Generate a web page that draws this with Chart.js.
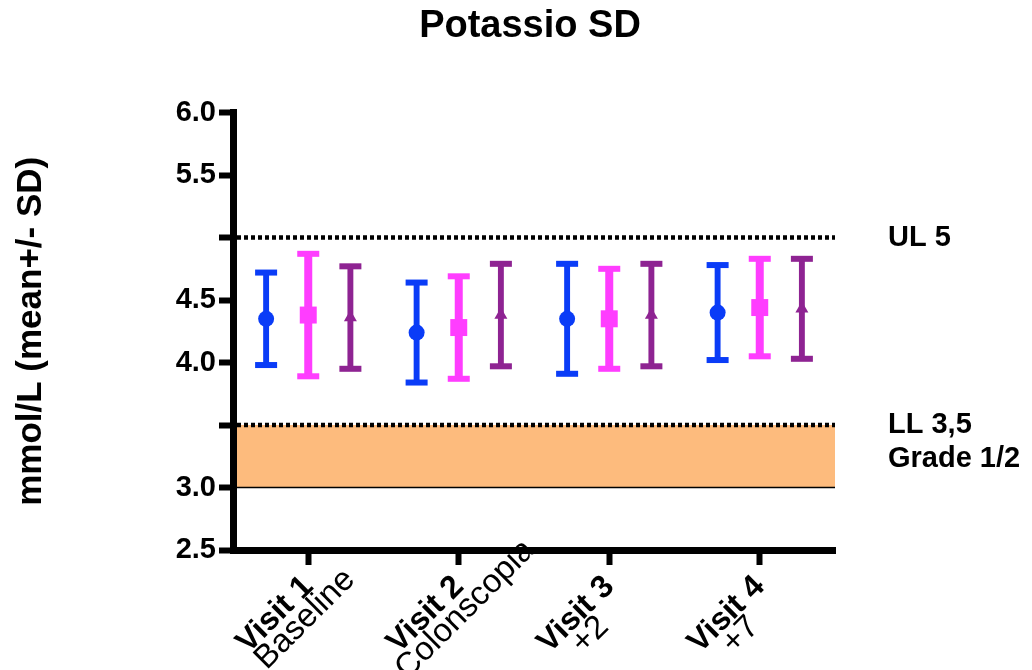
<!DOCTYPE html>
<html>
<head>
<meta charset="utf-8">
<title>Potassio SD</title>
<script src="https://cdn.jsdelivr.net/npm/chart.js@4.4.1/dist/chart.umd.min.js"></script>
<style>
  html, body { margin: 0; padding: 0; background: #ffffff; }
  #wrap { position: relative; width: 1032px; height: 670px; }
</style>
</head>
<body>
<div id="wrap"><canvas id="chartPotassio"></canvas></div>
<script>
"use strict";

/* categorie asse X */
var visite      = ['Visit 1', 'Visit 2', 'Visit 3', 'Visit 4'];
var sottotitoli = ['Baseline', 'Colonscopia', '+2', '+7'];

/* media e deviazione standard per gruppo (mmol/L) */
var mediaBlu   = [4.35, 4.24, 4.35, 4.40];
var sdBlu      = [0.37, 0.40, 0.44, 0.38];
var mediaRosa  = [4.38, 4.28, 4.35, 4.44];
var sdRosa     = [0.49, 0.41, 0.40, 0.39];
var mediaViola = [4.36, 4.38, 4.38, 4.43];
var sdViola    = [0.41, 0.41, 0.41, 0.40];

/* tacche asse Y */
var yTickValori    = [2.5, 3.0, 3.5, 4.0, 4.5, 5.0, 5.5, 6.0];
var yTickEtichette = ['2.5', '3.0', '', '4.0', '4.5', '', '5.5', '6.0'];

/* limiti di riferimento */
var limiteSup = 5.0;
var limiteInf = 3.5;
var grado12   = 3.0;

var FONT = "'Liberation Sans', Arial, sans-serif";
Chart.defaults.font.family = FONT;
Chart.defaults.color = '#000';

var serie = [
  { media: mediaBlu,   sd: sdBlu,   colore: '#0a3cf7', forma: 'circle',   raggio: 8,   spessore: 0.14 },
  { media: mediaRosa,  sd: sdRosa,  colore: '#ff3dff', forma: 'rect',     raggio: 12,  spessore: 0.19 },
  { media: mediaViola, sd: sdViola, colore: '#8e2392', forma: 'triangle', raggio: 7.5, spessore: 0.14 }
];

var datasets = serie.map(function (s, k) {
  return {
    label: 'Gruppo ' + (k + 1),
    data: s.media.map(function (m, i) { return [m - s.sd[i], m + s.sd[i]]; }),
    backgroundColor: s.colore,
    categoryPercentage: 0.84,
    barPercentage: s.spessore,
    yAxisID: 'y',
    media: s.media,
    sd: s.sd,
    forma: s.forma,
    raggio: s.raggio
  };
});

/* fascia arancio, linea a 3.0, limiti tratteggiati, barre d'errore, testi */
var pluginLimiti = {
  id: 'limiti',
  beforeDatasetsDraw: function (chart) {
    var ctx = chart.ctx, y = chart.scales.y, a = chart.chartArea;
    var x0 = a.left + 4, x1 = a.right;
    ctx.save();
    ctx.fillStyle = '#fdbb7d';
    ctx.fillRect(x0, y.getPixelForValue(limiteInf), x1 - x0,
                 y.getPixelForValue(grado12) - y.getPixelForValue(limiteInf));
    ctx.strokeStyle = '#000';
    ctx.lineWidth = 1.5;
    ctx.beginPath();
    ctx.moveTo(x0, y.getPixelForValue(grado12));
    ctx.lineTo(x1, y.getPixelForValue(grado12));
    ctx.stroke();
    ctx.lineWidth = 4.5;
    ctx.setLineDash([4, 3]);
    [limiteSup, limiteInf].forEach(function (v) {
      ctx.beginPath();
      ctx.moveTo(x0, y.getPixelForValue(v));
      ctx.lineTo(x1, y.getPixelForValue(v));
      ctx.stroke();
    });
    ctx.restore();
  },
  afterDatasetsDraw: function (chart) {
    var ctx = chart.ctx, y = chart.scales.y;
    ctx.save();
    chart.data.datasets.forEach(function (ds, di) {
      var meta = chart.getDatasetMeta(di);
      ctx.fillStyle = ds.backgroundColor;
      meta.data.forEach(function (bar, i) {
        var x = bar.x;
        var yAlto  = y.getPixelForValue(ds.media[i] + ds.sd[i]);
        var yBasso = y.getPixelForValue(ds.media[i] - ds.sd[i]);
        ctx.fillRect(x - 11, yAlto - 3, 22, 6);
        ctx.fillRect(x - 11, yBasso - 3, 22, 6);
        Chart.helpers.drawPoint(ctx, {
          pointStyle: ds.forma, radius: ds.raggio, rotation: 0, borderWidth: 0
        }, x, y.getPixelForValue(ds.media[i]));
      });
    });
    ctx.restore();
  },
  afterDraw: function (chart) {
    var ctx = chart.ctx, y = chart.scales.y, xs = chart.scales.x;
    ctx.save();
    /* etichette a destra */
    ctx.fillStyle = '#000';
    ctx.font = 'bold 29px ' + FONT;
    ctx.textAlign = 'left';
    ctx.textBaseline = 'middle';
    ctx.fillText('UL 5', 888, y.getPixelForValue(limiteSup));
    ctx.fillText('LL 3,5', 888, y.getPixelForValue(limiteInf));
    ctx.fillText('Grade 1/2', 888, y.getPixelForValue(limiteInf) + 34);
    /* seconda riga delle etichette X */
    visite.forEach(function (v, i) {
      ctx.font = 'bold 32px ' + FONT;
      var wV = ctx.measureText(v).width;
      ctx.font = '33px ' + FONT;
      var w2 = ctx.measureText(sottotitoli[i]).width;
      ctx.save();
      ctx.translate(xs.getPixelForTick(i), xs.top + 18);
      ctx.rotate(-Math.PI / 4);
      ctx.textAlign = 'center';
      ctx.fillText(sottotitoli[i], -wV / 2 + 0.25 * (w2 - wV), 34);
      ctx.restore();
    });
    ctx.restore();
  }
};

new Chart(document.getElementById('chartPotassio'), {
  type: 'bar',
  data: { labels: visite, datasets: datasets },
  plugins: [pluginLimiti],
  options: {
    responsive: true,
    maintainAspectRatio: false,
    animation: false,
    layout: { padding: { left: 28, right: 0, top: 0, bottom: 0 } },
    plugins: {
      legend: { display: false },
      tooltip: { enabled: false },
      title: {
        display: true,
        text: 'Potassio SD',
        color: '#000',
        font: { family: FONT, size: 38, weight: 'bold' },
        padding: { top: 4, bottom: 63 }
      }
    },
    scales: {
      x: {
        grid: { offset: false, drawOnChartArea: false, tickLength: 15, tickWidth: 6, tickColor: '#000' },
        border: { display: true, color: '#000', width: 7 },
        ticks: {
          autoSkip: false, minRotation: 45, maxRotation: 45, padding: 3,
          color: '#000', font: { family: FONT, size: 32, weight: 'bold' }
        },
        afterFit: function (s) { s.height = 120; }
      },
      y: {
        min: 2.5,
        max: 6.0,
        afterBuildTicks: function (s) {
          s.ticks = yTickValori.map(function (v) { return { value: v }; });
        },
        grid: { drawOnChartArea: false, tickLength: 14, tickWidth: 6, tickColor: '#000' },
        border: { display: true, color: '#000', width: 7 },
        ticks: {
          padding: 3,
          color: '#000',
          font: { family: FONT, size: 29, weight: 'bold' },
          callback: function (val) {
            var k = yTickValori.indexOf(val);
            return k >= 0 ? yTickEtichette[k] : '';
          }
        },
        title: {
          display: true,
          text: 'mmol/L (mean+/- SD)',
          color: '#000',
          font: { family: FONT, size: 35, weight: 'bold' },
          padding: { top: -18, bottom: 0 }
        },
        afterFit: function (s) { s.width = 205; }
      },
      /* spazio a destra per le etichette dei limiti */
      yDestra: {
        position: 'right',
        min: 2.5,
        max: 6.0,
        grid: { display: false, drawTicks: false },
        border: { display: false },
        ticks: { display: false },
        afterFit: function (s) { s.width = 197; }
      }
    }
  }
});
</script>
</body>
</html>
